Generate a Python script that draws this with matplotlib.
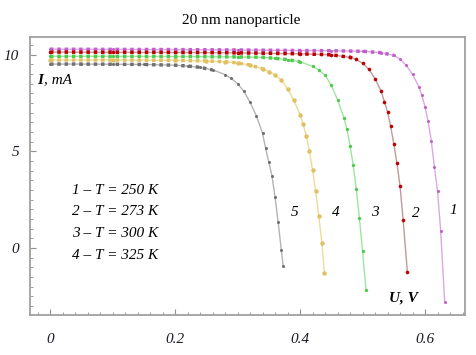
import matplotlib
matplotlib.use('Agg')
import matplotlib.pyplot as plt
import numpy as np
from matplotlib.ticker import MultipleLocator

plt.rcParams['font.family'] = ['Liberation Serif', 'DejaVu Serif']
plt.rcParams['font.style'] = 'italic'

# curve 1 - 250 K
u1 = [0, 0.1, 0.2, 0.3, 0.4, 0.45, 0.5, 0.53, 0.55, 0.56, 0.57, 0.58, 0.59, 0.595, 0.60, 0.605, 0.61, 0.615, 0.62, 0.625, 0.6315]
i1 = [10.29, 10.28, 10.27, 10.25, 10.22, 10.21, 10.18, 10.11, 9.97, 9.78, 9.45, 8.99, 8.35, 7.9, 7.3, 6.55, 5.55, 4.2, 2.95, 0.9, -2.81]
# curve 2 - 273 K
u2 = [0, 0.1, 0.2, 0.3, 0.4, 0.45, 0.48, 0.49, 0.50, 0.51, 0.52, 0.53, 0.535, 0.54, 0.545, 0.55, 0.555, 0.56, 0.565, 0.5717]
i2 = [10.14, 10.13, 10.12, 10.1, 10.05, 10.0, 9.87, 9.76, 9.56, 9.25, 8.77, 8.1, 7.57, 7.05, 6.3, 5.4, 4.4, 3.2, 1.45, -1.23]
# curve 3 - 300 K
u3 = [0, 0.1, 0.2, 0.3, 0.34, 0.36, 0.38, 0.40, 0.42, 0.43, 0.44, 0.45, 0.46, 0.47, 0.475, 0.48, 0.485, 0.49, 0.495, 0.50, 0.5056]
i3 = [9.92, 9.92, 9.91, 9.89, 9.87, 9.82, 9.75, 9.64, 9.4, 9.22, 8.95, 8.42, 7.68, 6.75, 6.15, 5.3, 4.3, 3.04, 1.56, -0.16, -2.17]
# curve 4 - 325 K
u4 = [0, 0.1, 0.2, 0.25, 0.28, 0.30, 0.32, 0.34, 0.35, 0.36, 0.37, 0.38, 0.39, 0.40, 0.405, 0.41, 0.415, 0.42, 0.425, 0.43, 0.435, 0.439]
i4 = [9.73, 9.73, 9.71, 9.68, 9.64, 9.58, 9.47, 9.28, 9.13, 8.95, 8.7, 8.25, 7.65, 6.9, 6.4, 5.8, 5.02, 4.05, 2.95, 1.65, 0.25, -1.31]
# curve 5
u5 = [0, 0.05, 0.1, 0.15, 0.2, 0.22, 0.24, 0.26, 0.28, 0.29, 0.30, 0.31, 0.32, 0.33, 0.34, 0.345, 0.35, 0.355, 0.36, 0.365, 0.37, 0.373]
i5 = [9.52, 9.52, 9.51, 9.5, 9.46, 9.42, 9.35, 9.22, 8.98, 8.78, 8.5, 8.12, 7.55, 6.85, 5.95, 5.15, 4.45, 3.75, 2.65, 1.35, -0.1, -0.93]

# data, marker colour, line colour, label, label position, marker size
curves = [(u1, i1, '#c060c8', '#dba8e2', '1', 0.645, 1.96, 2.2),
          (u2, i2, '#c00000', '#c09a9a', '2', 0.586, 1.81, 2.6),
          (u3, i3, '#50c850', '#9ee69e', '3', 0.52, 1.86, 2.4),
          (u4, i4, '#e0c060', '#ecdc98', '4', 0.458, 1.86, 3.2),
          (u5, i5, '#707070', '#b4b4b4', '5', 0.392, 1.86, 2.2)]

legend_lines = ['1 – T = 250 K', '2 – T = 273 K', '3 – T = 300 K', '4 – T = 325 K']

fig = plt.figure(figsize=(4.77, 3.55), dpi=100)
ax = fig.add_axes([0.0629, 0.1127, 0.912, 0.783])

for u, i, mc, lc, lab, lx, ly, ms in curves:
    u = np.array(u)
    i = np.array(i)
    ax.plot(u, i, '-', color=lc, lw=1.0, zorder=2)
    flat = i > i[0] - 0.5
    ax.plot(u[flat], i[flat], ls=(0, (1, 1.1)), color=mc, lw=2.5, zorder=3)
    ax.plot(u, i, 'o', color=mc, ms=ms, mec='none', zorder=4)
    ax.text(lx, ly, lab, fontsize=11, ha='center', va='center')

for k, s in enumerate(legend_lines):
    ax.text(0.035, 3.0 - k * 1.13, s, fontsize=11, va='center')

ax.text(-0.021, 8.69, 'I', fontsize=11, weight='bold', va='center')
ax.text(-0.01, 8.69, ', mA', fontsize=11, va='center')
ax.text(0.543, -2.59, 'U, V', fontsize=11, weight='bold', va='center')

ax.set_xlim(-0.032, 0.664)
ax.set_ylim(-3.47, 10.92)
ax.set_xticks([0, 0.2, 0.4, 0.6])
ax.set_xticklabels(['0', '0.2', '0.4', '0.6'])
ax.set_yticks([0, 5, 10])
ax.set_yticklabels(['0', '5', '10'])
ax.xaxis.set_minor_locator(MultipleLocator(0.02))
ax.yaxis.set_minor_locator(MultipleLocator(0.5))
ax.tick_params(which='both', direction='in', color='#909090', top=False, right=False)
ax.tick_params(which='major', length=4, width=0.8, labelcolor='#1a1a2a')
ax.tick_params(which='minor', length=2, width=0.6)
ax.tick_params(axis='x', pad=13, labelsize=11)
ax.tick_params(axis='y', pad=8, labelsize=11)
for sp in ax.spines.values():
    sp.set_color('#a0a0a0')
    sp.set_linewidth(1.3)

fig.suptitle('20 nm nanoparticle', x=0.505, y=0.96, fontsize=11, style='normal')

fig.savefig('out.png', dpi=100)
